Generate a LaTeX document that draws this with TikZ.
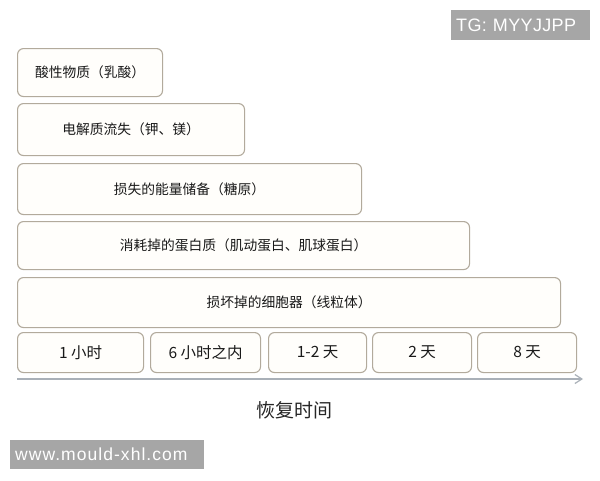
\documentclass[tikz,border=0pt]{standalone}
\usepackage{fontspec}
\newfontfamily\cjk{Noto Sans CJK SC}
\newfontfamily\wmfont[LetterSpace=6]{Liberation Sans}
\newfontfamily\tgfont[LetterSpace=2]{Liberation Sans}
\usepackage{tikz}
\usetikzlibrary{arrows.meta}
\definecolor{boxline}{HTML}{B2AA9C}
\definecolor{boxfill}{HTML}{FFFEFB}
\definecolor{axisline}{HTML}{A9B0B8}
\definecolor{wmgray}{HTML}{A6A6A6}
\tikzstyle{loss} = [rectangle, rounded corners=6pt, anchor=north west, draw=boxline, line width=1.1pt, fill=boxfill, font=\cjk\fontsize{13.75}{15}\selectfont, text=black!90, inner sep=0pt]
\tikzstyle{period} = [loss, font=\cjk\fontsize{15.5}{17}\selectfont]
\tikzstyle{watermark} = [rectangle, anchor=north west, fill=wmgray, text=white, inner xsep=5pt, inner ysep=0pt, align=left]
\tikzstyle{axis} = [line width=1.2pt, draw=axisline, -{Straight Barb[length=7pt, width=9pt]}]

\begin{document}
\begin{tikzpicture}[x=1pt, y=-1pt]
    \useasboundingbox (0,0) rectangle (600,480);
    \fill[white] (0,0) rectangle (600,480);
    % what is lost
    \node (acid) [loss, minimum width=145pt, minimum height=48pt] at (17,48) {酸性物质（乳酸）};
    \node (electro) [loss, minimum width=227pt, minimum height=52pt] at (17,103) {电解质流失（钾、镁）};
    \node (energy) [loss, minimum width=344pt, minimum height=51pt] at (17,163) {损失的能量储备（糖原）};
    \node (protein) [loss, minimum width=452pt, minimum height=48pt] at (17,221) {消耗掉的蛋白质（肌动蛋白、肌球蛋白）};
    \node (cell) [loss, minimum width=543pt, minimum height=50pt] at (17,277) {损坏掉的细胞器（线粒体）};
    % recovery periods
    \node (hour) [period, minimum width=126pt, minimum height=40pt] at (17,332) {1 小时};
    \node (sixhour) [period, minimum width=110pt, minimum height=40pt] at (150,332) {6 小时之内};
    \node (days) [period, minimum width=98pt, minimum height=40pt] at (268,332) {1-2 天};
    \node (twoday) [period, minimum width=99pt, minimum height=40pt] at (372,332) {2 天};
    \node (eightday) [period, minimum width=99pt, minimum height=40pt] at (477,332) {8 天};
    % time axis
    \coordinate (tstart) at (17,379);
    \coordinate (tend) at (583,379);
    \draw [axis] (tstart) -- (tend);
    \node (timelabel) [font=\cjk\fontsize{19}{21}\selectfont, text=black!85] at (294,410) {恢复时间};
    % watermarks
    \node (tg) [watermark, text width=129pt, minimum height=30pt, font=\tgfont\fontsize{18}{20}\selectfont] at (451,10) {TG: MYYJJPP};
    \node (site) [watermark, text width=184pt, minimum height=29pt, font=\wmfont\fontsize{17.5}{19}\selectfont] at (10,440) {www.mould-xhl.com};
\end{tikzpicture}
\end{document}
